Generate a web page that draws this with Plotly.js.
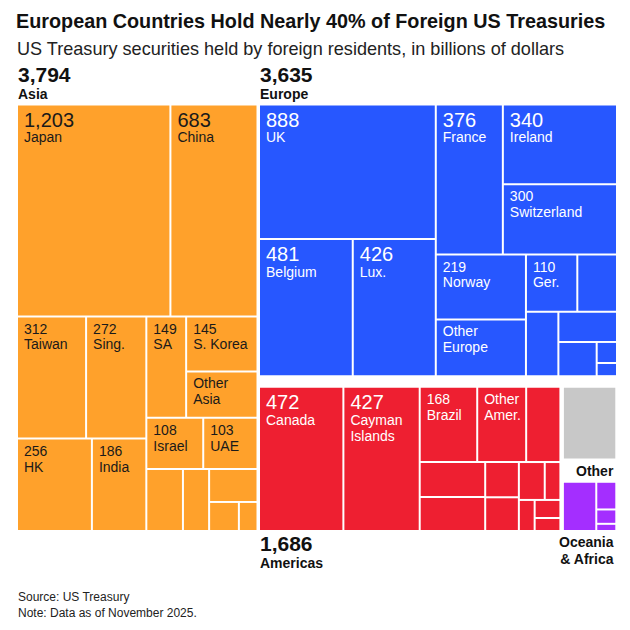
<!DOCTYPE html>
<html>
<head>
<meta charset="utf-8">
<script src="https://cdn.plot.ly/plotly-3.0.1.min.js"></script>
<style>html,body{margin:0;padding:0;background:#fff;}</style>
</head>
<body>
<div id="chart" style="width:630px;height:630px;"></div>
<script>
// ---------------- DATA ----------------
const regionNames = ['Asia', 'Europe', 'Americas', 'Other', 'Oceania<br>& Africa'];

const asiaLabels = ['Japan', 'China', 'Taiwan', 'Sing.', 'HK', 'India', 'SA', 'S. Korea', 'Other<br>Asia', 'Israel', 'UAE', '', '', '', '', ''];
const asiaValues = [1203, 683, 312, 272, 256, 186, 149, 145, 122, 108, 103, 84, 60, 59, 32, 20];

const europeLabels = ['UK', 'Belgium', 'Lux.', 'France', 'Ireland', 'Switzerland', 'Norway', 'Other<br>Europe', 'Ger.', '', '', '', '', '', ''];
const europeValues = [888, 481, 426, 376, 340, 300, 219, 191, 110, 85, 78, 66, 49, 16, 10];

const americasLabels = ['Canada', 'Cayman<br>Islands', 'Brazil', 'Other<br>Amer.', '', '', '', '', '', '', '', '', '', ''];
const americasValues = [472, 427, 168, 143, 100, 89, 86, 46, 44, 38, 23, 19, 18, 13];

const otherLabels = [''];
const otherValues = [175];

const oceaniaLabels = ['', '', '', ''];
const oceaniaValues = [80, 27, 14, 7];

// ---------------- STYLE ----------------
const W = 630, H = 630;
const FONT = 'Liberation Sans, Arial, sans-serif';
const AREA = {x0: 18, x1: 616, y0: 105.5, y1: 530};
const regionColors = ['#FFA12B', '#2757FF', '#EE1F31', '#C8C8C8', '#A42EFF'];
const regionTextColors = ['#1a1a1a', '#ffffff', '#ffffff', '#ffffff', '#ffffff'];
// gaps around each region box (px): l, r, t, b
const regionInsets = [
  {l: 0, r: 2.4, t: 0, b: 0},
  {l: 1.1, r: 0, t: 0, b: 4.7},
  {l: 1.1, r: 2.2, t: 7.8, b: 0},
  {l: 2.3, r: 0.7, t: 7.8, b: 8.2},
  {l: 2.3, r: 0.7, t: 16.2, b: 0}
];
const regionLabelSide = ['top', 'top', 'bottom', 'bottom-right', 'bottom-right'];
const regionShowTotal = [true, true, true, false, false];

const regionLabels = [asiaLabels, europeLabels, americasLabels, otherLabels, oceaniaLabels];
const regionValues = [asiaValues, europeValues, americasValues, otherValues, oceaniaValues];

// ---------------- LAYOUT (d3-style binary partition of regions) ----------------
function binaryPartition(values, x0, y0, x1, y1) {
  const n = values.length, sums = [0];
  for (let i = 0; i < n; i++) sums.push(sums[i] + values[i]);
  const out = new Array(n);
  (function part(i, j, value, x0, y0, x1, y1) {
    if (i >= j - 1) { out[i] = {x0, y0, x1, y1}; return; }
    const off = sums[i], target = value / 2 + off;
    let k = i + 1, hi = j - 1;
    while (k < hi) { const mid = (k + hi) >>> 1; if (sums[mid] < target) k = mid + 1; else hi = mid; }
    if ((target - sums[k - 1]) < (sums[k] - target) && i + 1 < k) --k;
    const vl = sums[k] - off, vr = value - vl;
    if (x1 - x0 > y1 - y0) {
      const xk = (x0 * vr + x1 * vl) / value;
      part(i, k, vl, x0, y0, xk, y1); part(k, j, vr, xk, y0, x1, y1);
    } else {
      const yk = (y0 * vr + y1 * vl) / value;
      part(i, k, vl, x0, y0, x1, yk); part(k, j, vr, x0, yk, x1, y1);
    }
  })(0, n, sums[n], x0, y0, x1, y1);
  return out;
}

const sum = a => a.reduce((s, v) => s + v, 0);
const totals = regionValues.map(sum);
const rects = binaryPartition(totals, AREA.x0, AREA.y0, AREA.x1, AREA.y1).map((r, i) => {
  const s = regionInsets[i];
  return {x0: r.x0 + s.l, x1: r.x1 - s.r, y0: r.y0 + s.t, y1: r.y1 - s.b};
});

const fmt = v => v.toLocaleString('en-US');
const SP = '<span style="font-size:6px">\u2002</span>';

function leafText(label, value) {
  if (!label) return '';
  if (label.indexOf('Other') === 0) {
    return label.split('<br>').map(l => SP + '<span style="font-size:14px">' + l + '</span>').join('<br>');
  }
  const big = value >= 320;
  const lines = [SP + '<span style="font-size:' + (big ? 20 : 14) + 'px">' + fmt(value) + '</span>'];
  label.split('<br>').forEach(l => lines.push(SP + '<span style="font-size:14px">' + l + '</span>'));
  return lines.join('<br>');
}

const traces = regionNames.map((name, ri) => {
  const labs = regionLabels[ri], vals = regionValues[ri], rect = rects[ri];
  let ids, labels, parents, values, texts, colors;
  if (vals.length === 1) {
    ids = ['r' + ri]; labels = [labs[0] || ' ']; parents = ['']; values = [vals[0]];
    texts = ['']; colors = [regionColors[ri]];
  } else {
    ids = ['r' + ri]; labels = [' ']; parents = ['']; values = [0]; texts = ['']; colors = ['#ffffff'];
    vals.forEach((v, i) => {
      ids.push('r' + ri + '_' + i);
      labels.push(labs[i] || ' ');
      parents.push('r' + ri);
      values.push(v);
      texts.push(leafText(labs[i], v));
      colors.push(regionColors[ri]);
    });
  }
  return {
    type: 'treemap', ids, labels, parents, values, text: texts,
    texttemplate: '%{text}', textposition: 'top left',
    textfont: {family: FONT, size: 12.3, color: regionTextColors[ri]},
    branchvalues: 'remainder', sort: true,
    tiling: {packing: 'binary', pad: 2},
    marker: {colors, line: {width: 0}, pad: {t: 0, l: 0, r: 0, b: 0}, depthfade: false},
    pathbar: {visible: false},
    hoverinfo: 'skip',
    domain: {x: [rect.x0 / W, rect.x1 / W], y: [1 - rect.y1 / H, 1 - rect.y0 / H]}
  };
});

// ---------------- ANNOTATIONS ----------------
const annotations = [];
regionNames.forEach((name, ri) => {
  const r = rects[ri], side = regionLabelSide[ri];
  const txt = (regionShowTotal[ri] ? '<span style="font-size:21px"><b>' + fmt(totals[ri]) + '</b></span><br>' : '') +
    name.split('<br>').map(l => '<span style="font-size:14px"><b>' + l + '</b></span>').join('<br>');
  const base = {xref: 'paper', yref: 'paper', showarrow: false, borderpad: 0, text: txt,
    font: {family: FONT, size: 12.85, color: '#111'}};
  if (side === 'top') {
    annotations.push(Object.assign(base, {x: r.x0 / W, y: 1 - r.y0 / H, xanchor: 'left', yanchor: 'bottom',
      align: 'left', xshift: -1, yshift: 2.5}));
  } else if (side === 'bottom') {
    annotations.push(Object.assign(base, {x: r.x0 / W, y: 1 - r.y1 / H, xanchor: 'left', yanchor: 'top',
      align: 'left', xshift: -1, yshift: -1}));
  } else {
    annotations.push(Object.assign(base, {x: r.x1 / W, y: 1 - r.y1 / H, xanchor: 'right', yanchor: 'top',
      align: 'right', yshift: ri === 3 ? -4 : -3.4}));
  }
});

annotations.push({xref: 'paper', yref: 'paper', x: 16 / W, y: 1 - 37.6 / H, xanchor: 'left', yanchor: 'top',
  showarrow: false, borderpad: 0, text: 'US Treasury securities held by foreign residents, in billions of dollars',
  font: {family: FONT, size: 18.1, color: '#222'}});
annotations.push({xref: 'paper', yref: 'paper', x: 17 / W, y: 1 - 589 / H, xanchor: 'left', yanchor: 'top',
  showarrow: false, borderpad: 0, align: 'left', text: 'Source: US Treasury<br>Note: Data as of November 2025.',
  font: {family: FONT, size: 12, color: '#222'}});

const layout = {
  width: W, height: H,
  margin: {l: 0, r: 0, t: 0, b: 0},
  paper_bgcolor: '#ffffff',
  showlegend: false,
  title: {text: '<b>European Countries Hold Nearly 40% of Foreign US Treasuries</b>',
    x: 16 / W, xanchor: 'left', xref: 'paper', y: 1 - 14 / H, yanchor: 'top', yref: 'container',
    font: {family: FONT, size: 19.8, color: '#111'}},
  uniformtext: {mode: 'show', minsize: 12.3},
  annotations
};

Plotly.newPlot('chart', traces, layout, {displayModeBar: false, staticPlot: true});
</script>
</body>
</html>
